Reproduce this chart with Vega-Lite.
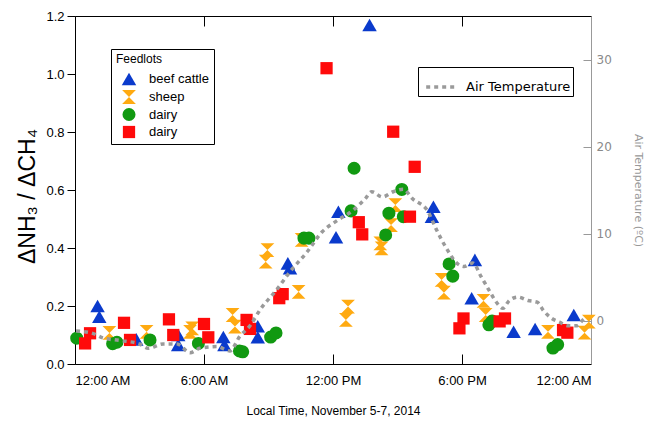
{
  "$schema": "https://vega.github.io/schema/vega-lite/v6.json",
  "width": 516,
  "height": 348,
  "autosize": {"type": "none"},
  "padding": {"left": 75, "top": 16, "right": 56, "bottom": 60},
  "config": {
    "view": {"stroke": null},
    "font": "Liberation Sans",
    "axis": {"grid": false}
  },
  "datasets": {
    "feedlots": [
      {"feedlot": "beef cattle", "hour": 1.05, "ratio": 0.2},
      {"feedlot": "beef cattle", "hour": 1.13, "ratio": 0.163},
      {"feedlot": "beef cattle", "hour": 2.85, "ratio": 0.085},
      {"feedlot": "beef cattle", "hour": 4.8, "ratio": 0.1},
      {"feedlot": "beef cattle", "hour": 4.8, "ratio": 0.066},
      {"feedlot": "beef cattle", "hour": 6.9, "ratio": 0.093},
      {"feedlot": "beef cattle", "hour": 6.95, "ratio": 0.066},
      {"feedlot": "beef cattle", "hour": 8.5, "ratio": 0.13},
      {"feedlot": "beef cattle", "hour": 8.5, "ratio": 0.092},
      {"feedlot": "beef cattle", "hour": 9.9, "ratio": 0.347},
      {"feedlot": "beef cattle", "hour": 10.0, "ratio": 0.33},
      {"feedlot": "beef cattle", "hour": 12.25, "ratio": 0.525},
      {"feedlot": "beef cattle", "hour": 12.14, "ratio": 0.437},
      {"feedlot": "beef cattle", "hour": 13.7, "ratio": 1.169},
      {"feedlot": "beef cattle", "hour": 16.67, "ratio": 0.542},
      {"feedlot": "beef cattle", "hour": 16.6, "ratio": 0.508},
      {"feedlot": "beef cattle", "hour": 18.6, "ratio": 0.359},
      {"feedlot": "beef cattle", "hour": 18.45, "ratio": 0.227},
      {"feedlot": "beef cattle", "hour": 20.4, "ratio": 0.111},
      {"feedlot": "beef cattle", "hour": 21.4, "ratio": 0.121},
      {"feedlot": "beef cattle", "hour": 23.2, "ratio": 0.169},
      {"feedlot": "sheep", "hour": 1.6, "ratio": 0.107},
      {"feedlot": "sheep", "hour": 3.33, "ratio": 0.111},
      {"feedlot": "sheep", "hour": 5.35, "ratio": 0.111},
      {"feedlot": "sheep", "hour": 5.45, "ratio": 0.123},
      {"feedlot": "sheep", "hour": 7.33, "ratio": 0.169},
      {"feedlot": "sheep", "hour": 7.44, "ratio": 0.129},
      {"feedlot": "sheep", "hour": 8.95, "ratio": 0.393},
      {"feedlot": "sheep", "hour": 8.87, "ratio": 0.353},
      {"feedlot": "sheep", "hour": 10.4, "ratio": 0.249},
      {"feedlot": "sheep", "hour": 10.54, "ratio": 0.428},
      {"feedlot": "sheep", "hour": 12.7, "ratio": 0.198},
      {"feedlot": "sheep", "hour": 12.6, "ratio": 0.152},
      {"feedlot": "sheep", "hour": 14.2, "ratio": 0.416},
      {"feedlot": "sheep", "hour": 14.26, "ratio": 0.399},
      {"feedlot": "sheep", "hour": 14.9, "ratio": 0.548},
      {"feedlot": "sheep", "hour": 14.7, "ratio": 0.479},
      {"feedlot": "sheep", "hour": 17.05, "ratio": 0.29},
      {"feedlot": "sheep", "hour": 17.16, "ratio": 0.246},
      {"feedlot": "sheep", "hour": 19.0, "ratio": 0.218},
      {"feedlot": "sheep", "hour": 19.1, "ratio": 0.169},
      {"feedlot": "sheep", "hour": 22.0, "ratio": 0.111},
      {"feedlot": "sheep", "hour": 23.9, "ratio": 0.146},
      {"feedlot": "sheep", "hour": 23.7, "ratio": 0.108},
      {"feedlot": "dairy 1", "hour": 0.08, "ratio": 0.089},
      {"feedlot": "dairy 1", "hour": 1.75, "ratio": 0.07},
      {"feedlot": "dairy 1", "hour": 1.95, "ratio": 0.075},
      {"feedlot": "dairy 1", "hour": 3.49, "ratio": 0.083},
      {"feedlot": "dairy 1", "hour": 5.74, "ratio": 0.071},
      {"feedlot": "dairy 1", "hour": 7.65, "ratio": 0.045},
      {"feedlot": "dairy 1", "hour": 7.8, "ratio": 0.042},
      {"feedlot": "dairy 1", "hour": 9.1, "ratio": 0.093},
      {"feedlot": "dairy 1", "hour": 9.35, "ratio": 0.107},
      {"feedlot": "dairy 1", "hour": 10.65, "ratio": 0.434},
      {"feedlot": "dairy 1", "hour": 10.88, "ratio": 0.434},
      {"feedlot": "dairy 1", "hour": 12.98, "ratio": 0.675},
      {"feedlot": "dairy 1", "hour": 12.84, "ratio": 0.528},
      {"feedlot": "dairy 1", "hour": 14.6, "ratio": 0.52},
      {"feedlot": "dairy 1", "hour": 14.45, "ratio": 0.445},
      {"feedlot": "dairy 1", "hour": 15.2, "ratio": 0.602},
      {"feedlot": "dairy 1", "hour": 15.27, "ratio": 0.508},
      {"feedlot": "dairy 1", "hour": 17.4, "ratio": 0.345},
      {"feedlot": "dairy 1", "hour": 17.57, "ratio": 0.303},
      {"feedlot": "dairy 1", "hour": 19.25, "ratio": 0.135},
      {"feedlot": "dairy 1", "hour": 19.4, "ratio": 0.148},
      {"feedlot": "dairy 1", "hour": 22.23, "ratio": 0.055},
      {"feedlot": "dairy 1", "hour": 22.45, "ratio": 0.067},
      {"feedlot": "dairy 2", "hour": 0.47, "ratio": 0.071},
      {"feedlot": "dairy 2", "hour": 0.7, "ratio": 0.106},
      {"feedlot": "dairy 2", "hour": 2.28, "ratio": 0.142},
      {"feedlot": "dairy 2", "hour": 2.56, "ratio": 0.083},
      {"feedlot": "dairy 2", "hour": 4.37, "ratio": 0.154},
      {"feedlot": "dairy 2", "hour": 4.57, "ratio": 0.1},
      {"feedlot": "dairy 2", "hour": 6.0, "ratio": 0.138},
      {"feedlot": "dairy 2", "hour": 6.2, "ratio": 0.092},
      {"feedlot": "dairy 2", "hour": 7.98, "ratio": 0.152},
      {"feedlot": "dairy 2", "hour": 8.14, "ratio": 0.121},
      {"feedlot": "dairy 2", "hour": 9.66, "ratio": 0.241},
      {"feedlot": "dairy 2", "hour": 9.5, "ratio": 0.227},
      {"feedlot": "dairy 2", "hour": 11.7, "ratio": 1.02},
      {"feedlot": "dairy 2", "hour": 13.2, "ratio": 0.489},
      {"feedlot": "dairy 2", "hour": 13.36, "ratio": 0.447},
      {"feedlot": "dairy 2", "hour": 14.8, "ratio": 0.801},
      {"feedlot": "dairy 2", "hour": 15.8, "ratio": 0.68},
      {"feedlot": "dairy 2", "hour": 15.58, "ratio": 0.508},
      {"feedlot": "dairy 2", "hour": 18.07, "ratio": 0.157},
      {"feedlot": "dairy 2", "hour": 17.88, "ratio": 0.123},
      {"feedlot": "dairy 2", "hour": 19.75, "ratio": 0.147},
      {"feedlot": "dairy 2", "hour": 20.0, "ratio": 0.157},
      {"feedlot": "dairy 2", "hour": 22.7, "ratio": 0.117},
      {"feedlot": "dairy 2", "hour": 22.9, "ratio": 0.108}
    ],
    "temperature": [
      {"series": "Air Temperature", "hour": 0.05, "temp": -1.2},
      {"series": "Air Temperature", "hour": 0.85, "temp": -1.5},
      {"series": "Air Temperature", "hour": 1.3, "temp": -2.0},
      {"series": "Air Temperature", "hour": 2.1, "temp": -2.3},
      {"series": "Air Temperature", "hour": 3.0, "temp": -2.7},
      {"series": "Air Temperature", "hour": 3.4, "temp": -3.2},
      {"series": "Air Temperature", "hour": 4.1, "temp": -2.7},
      {"series": "Air Temperature", "hour": 4.75, "temp": -2.7},
      {"series": "Air Temperature", "hour": 5.35, "temp": -3.7},
      {"series": "Air Temperature", "hour": 5.8, "temp": -3.2},
      {"series": "Air Temperature", "hour": 6.6, "temp": -3.0},
      {"series": "Air Temperature", "hour": 7.2, "temp": -3.5},
      {"series": "Air Temperature", "hour": 7.67, "temp": -1.8},
      {"series": "Air Temperature", "hour": 8.14, "temp": -0.6},
      {"series": "Air Temperature", "hour": 8.6, "temp": 1.2},
      {"series": "Air Temperature", "hour": 9.4, "temp": 3.6},
      {"series": "Air Temperature", "hour": 10.0, "temp": 5.6},
      {"series": "Air Temperature", "hour": 10.8, "temp": 7.9},
      {"series": "Air Temperature", "hour": 11.5, "temp": 10.2},
      {"series": "Air Temperature", "hour": 12.2, "temp": 11.5},
      {"series": "Air Temperature", "hour": 12.9, "temp": 12.6},
      {"series": "Air Temperature", "hour": 13.5, "temp": 14.0},
      {"series": "Air Temperature", "hour": 13.8, "temp": 14.8},
      {"series": "Air Temperature", "hour": 14.3, "temp": 14.2},
      {"series": "Air Temperature", "hour": 14.8, "temp": 14.8},
      {"series": "Air Temperature", "hour": 15.26, "temp": 15.1},
      {"series": "Air Temperature", "hour": 15.7, "temp": 14.0},
      {"series": "Air Temperature", "hour": 16.4, "temp": 12.6},
      {"series": "Air Temperature", "hour": 16.8, "temp": 10.5},
      {"series": "Air Temperature", "hour": 17.3, "temp": 8.2},
      {"series": "Air Temperature", "hour": 17.8, "temp": 6.5},
      {"series": "Air Temperature", "hour": 18.1, "temp": 6.2},
      {"series": "Air Temperature", "hour": 18.5, "temp": 6.6},
      {"series": "Air Temperature", "hour": 18.9, "temp": 5.0},
      {"series": "Air Temperature", "hour": 19.3, "temp": 3.3},
      {"series": "Air Temperature", "hour": 19.6, "temp": 2.1},
      {"series": "Air Temperature", "hour": 19.9, "temp": 1.4},
      {"series": "Air Temperature", "hour": 20.2, "temp": 2.3},
      {"series": "Air Temperature", "hour": 20.6, "temp": 2.7},
      {"series": "Air Temperature", "hour": 21.07, "temp": 2.3},
      {"series": "Air Temperature", "hour": 21.5, "temp": 2.1},
      {"series": "Air Temperature", "hour": 21.8, "temp": 1.1},
      {"series": "Air Temperature", "hour": 22.2, "temp": 0.2},
      {"series": "Air Temperature", "hour": 22.55, "temp": -0.2},
      {"series": "Air Temperature", "hour": 22.9, "temp": -0.6},
      {"series": "Air Temperature", "hour": 23.35, "temp": -0.6},
      {"series": "Air Temperature", "hour": 23.6, "temp": 0.0},
      {"series": "Air Temperature", "hour": 23.8, "temp": 0.4}
    ]
  },
  "layer": [
    {
      "data": {"name": "feedlots"},
      "mark": {"type": "point", "filled": true, "opacity": 1},
      "encoding": {
        "x": {
          "field": "hour", "type": "quantitative",
          "scale": {"domain": [0, 24], "nice": false, "zero": false},
          "axis": {
            "orient": "bottom", "values": [0, 6, 12, 18, 24],
            "labelExpr": "datum.value == 6 ? '6:00 AM' : datum.value == 12 ? '12:00 PM' : datum.value == 18 ? '6:00 PM' : '12:00 AM'",
            "tickSize": -10, "tickColor": "black", "domainColor": "black",
            "labelColor": "black", "labelFontSize": 13, "labelPadding": 20,
            "title": "Local Time, November 5-7, 2014", "titleFontSize": 12,
            "titleFontWeight": "normal", "titleColor": "black", "titlePadding": 18
          }
        },
        "y": {
          "field": "ratio", "type": "quantitative",
          "scale": {"domain": [0, 1.2], "nice": false},
          "axis": {
            "orient": "left", "values": [0, 0.2, 0.4, 0.6, 0.8, 1.0, 1.2], "format": ".1f",
            "tickSize": 8, "tickColor": "black", "domainColor": "black",
            "labelColor": "black", "labelFontSize": 13, "labelPadding": 3,
            "title": "ΔNH₃ / ΔCH₄", "titleFontSize": 23, "titleFontWeight": "normal",
            "titleColor": "black", "titlePadding": 6, "titleY": 180
          }
        },
        "color": {
          "field": "feedlot", "type": "nominal",
          "scale": {"domain": ["beef cattle", "sheep", "dairy 1", "dairy 2"], "range": ["#0a3acc", "#ffaa11", "#119911", "#ff0a0a"]},
          "legend": {
            "title": "Feedlots", "orient": "none", "legendX": 36, "legendY": 33,
            "strokeColor": "black", "fillColor": "white", "padding": 5,
            "titleFontSize": 12, "titleFontWeight": "normal", "titleColor": "black",
            "labelFontSize": 13, "labelColor": "black", "symbolSize": 170,
            "symbolOffset": 5, "labelOffset": 12, "rowPadding": 3,
            "labelExpr": "indexof(datum.label, 'dairy') == 0 ? 'dairy' : datum.label"
          }
        },
        "shape": {
          "field": "feedlot", "type": "nominal",
          "scale": {"domain": ["beef cattle", "sheep", "dairy 1", "dairy 2"], "range": ["triangle-up", "M-1,-1L1,-1L0,0L1,1L-1,1L0,0Z", "circle", "square"]},
          "legend": {
            "title": "Feedlots", "orient": "none", "legendX": 36, "legendY": 33,
            "strokeColor": "black", "fillColor": "white", "padding": 5,
            "titleFontSize": 12, "titleFontWeight": "normal", "titleColor": "black",
            "labelFontSize": 13, "labelColor": "black", "symbolSize": 170,
            "symbolOffset": 5, "labelOffset": 12, "rowPadding": 3,
            "labelExpr": "indexof(datum.label, 'dairy') == 0 ? 'dairy' : datum.label"
          }
        },
        "size": {
          "field": "feedlot", "type": "ordinal",
          "scale": {"domain": ["beef cattle", "sheep", "dairy 1", "dairy 2"], "range": [210, 150, 160, 150]},
          "legend": null
        }
      }
    },
    {
      "data": {"name": "temperature"},
      "mark": {"type": "line", "color": "#9a9a9a", "strokeWidth": 3.5, "interpolate": "monotone"},
      "encoding": {
        "x": {
          "field": "hour", "type": "quantitative",
          "scale": {"domain": [0, 24], "nice": false, "zero": false},
          "axis": {
            "orient": "top", "values": [0, 6, 12, 18, 24], "labels": false,
            "tickSize": -10, "tickColor": "black", "domainColor": "black", "title": null
          }
        },
        "y": {
          "field": "temp", "type": "quantitative",
          "scale": {"domain": [-5, 35], "nice": false, "zero": false},
          "axis": {
            "orient": "right", "values": [0, 10, 20, 30],
            "tickSize": -8, "tickColor": "#999999", "domainColor": "#999999",
            "labelColor": "#8a8a8a", "labelFontSize": 12, "labelFont": "DejaVu Sans", "labelPadding": 13,
            "title": "Air Temperature (ºC)", "titleFontSize": 11, "titleFontWeight": "normal",
            "titleColor": "#999999", "titleFont": "DejaVu Sans", "titlePadding": 21
          }
        },
        "strokeDash": {
          "field": "series", "type": "nominal",
          "scale": {"range": [[4, 4]]},
          "legend": {
            "title": null, "orient": "none", "legendX": 343, "legendY": 51,
            "strokeColor": "black", "fillColor": "white", "padding": 2,
            "symbolType": "stroke", "symbolStrokeColor": "#9a9a9a", "symbolStrokeWidth": 3.5,
            "symbolSize": 1000, "symbolOffset": 4, "labelFontSize": 13, "labelFont": "DejaVu Sans",
            "labelColor": "black", "labelOffset": 6
          }
        }
      }
    }
  ],
  "resolve": {"scale": {"y": "independent"}, "axis": {"x": "independent"}}
}
